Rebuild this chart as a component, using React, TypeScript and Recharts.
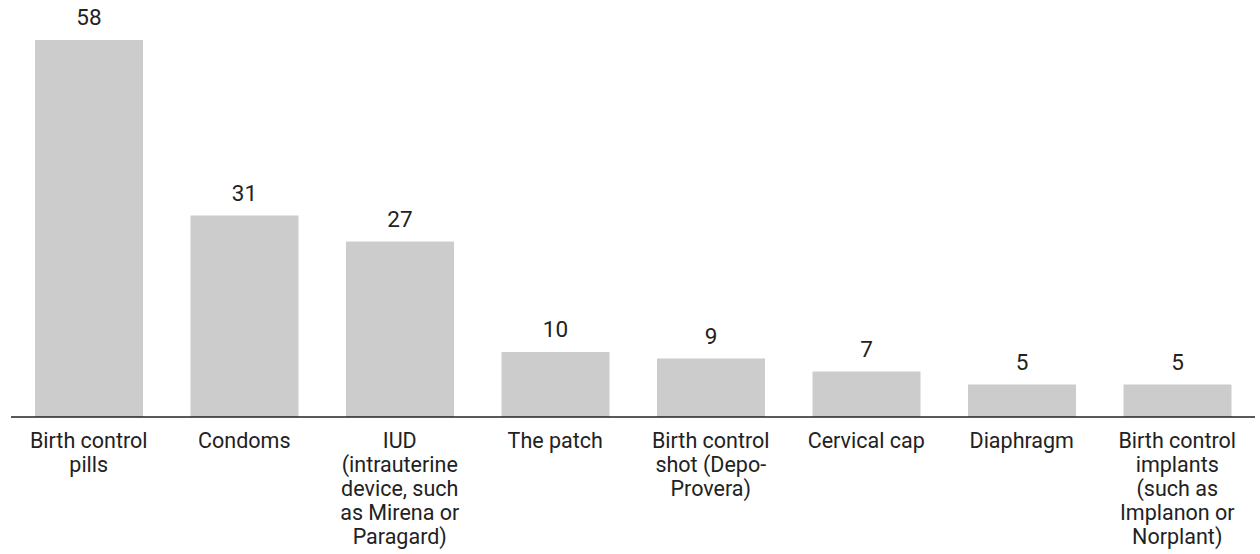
import { BarChart, Bar, XAxis, YAxis, LabelList } from "recharts";

const categories = [
  "Birth control pills",
  "Condoms",
  "IUD (intrauterine device, such as Mirena or Paragard)",
  "The patch",
  "Birth control shot (Depo-Provera)",
  "Cervical cap",
  "Diaphragm",
  "Birth control implants (such as Implanon or Norplant)",
];

// how each tick label breaks in the picture
const tickLines = [
  ["Birth control", "pills"],
  ["Condoms"],
  ["IUD", "(intrauterine", "device, such", "as Mirena or", "Paragard)"],
  ["The patch"],
  ["Birth control", "shot (Depo-", "Provera)"],
  ["Cervical cap"],
  ["Diaphragm"],
  ["Birth control", "implants", "(such as", "Implanon or", "Norplant)"],
];

const values = [58, 31, 27, 10, 9, 7, 5, 5];

const data = categories.map((name, i) => ({ name, value: values[i] }));

const FONT = "Roboto, sans-serif";

function WrappedTick({ x, y, payload, index }: any) {
  const lines = tickLines[index ?? payload.index] || [payload.value];
  return (
    <text x={x} y={y} textAnchor="middle" fill="#222" fontSize={21.5} fontFamily={FONT}>
      {lines.map((l: string, i: number) => (
        <tspan key={i} x={x} dy={i === 0 ? 23 : 24}>{l}</tspan>
      ))}
    </text>
  );
}

export default function App() {
  return (
    <div style={{ position: "absolute", left: 0, top: 0, background: "#fff" }}>
      <BarChart
        width={1260}
        height={554}
        data={data}
        margin={{ top: 27, right: 5, left: 11, bottom: 7 }}
      >
        <YAxis hide domain={[0, 60]} />
        <XAxis
          dataKey="name"
          height={130}
          interval={0}
          tickLine={false}
          axisLine={{ stroke: "#222", strokeWidth: 1.5 }}
          tick={<WrappedTick />}
        />
        <Bar dataKey="value" fill="#cccccc" barSize={108} isAnimationActive={false}>
          <LabelList dataKey="value" position="top" offset={15} fill="#222" fontSize={22.5} fontFamily={FONT} />
        </Bar>
      </BarChart>
    </div>
  );
}
